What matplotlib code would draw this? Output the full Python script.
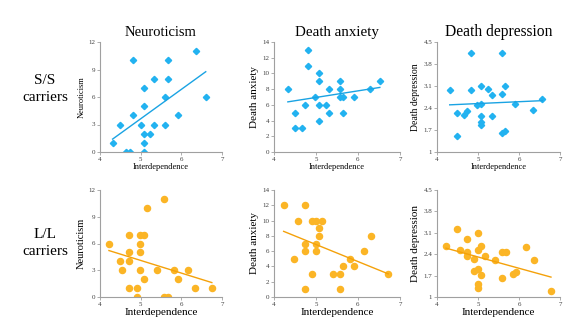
import numpy as np
import matplotlib
matplotlib.use("Agg")
import matplotlib.pyplot as plt

plt.rcParams['font.family'] = ['Liberation Serif', 'DejaVu Serif']

# S/S carriers
ss_neuro_x = [4.31, 4.48, 4.63, 4.73, 4.81, 4.81, 5.0, 5.07, 5.07, 5.07, 5.07, 5.07,
              5.24, 5.32, 5.32, 5.59, 5.59, 5.67, 5.67, 5.92, 6.35, 6.6]
ss_neuro_y = [1, 3, 0, 0, 10, 4, 3, 7, 5, 2, 1, 0,
              2, 8, 3, 6, 3, 10, 8, 4, 11, 6]

ss_anx_x = [4.33, 4.49, 4.49, 4.66, 4.74, 4.82, 4.82, 4.98, 5.07, 5.07, 5.07, 5.07,
            5.23, 5.31, 5.31, 5.56, 5.56, 5.56, 5.65, 5.65, 5.9, 6.28, 6.52]
ss_anx_y = [8, 5, 3, 3, 6, 13, 11, 7, 10, 9, 6, 4,
            6, 8, 5, 9, 8, 7, 7, 5, 7, 8, 9]

ss_dep_x = [4.31, 4.49, 4.49, 4.66, 4.74, 4.82, 4.82, 4.98, 5.07, 5.07, 5.07, 5.07,
            5.07, 5.24, 5.33, 5.33, 5.58, 5.58, 5.58, 5.66, 5.66, 5.9, 6.33, 6.57]
ss_dep_y = [2.97, 1.52, 2.24, 2.19, 2.29, 4.16, 2.97, 2.49, 2.53, 3.10, 2.14, 1.95,
            1.85, 3.01, 2.82, 2.14, 4.16, 2.86, 1.61, 1.66, 3.10, 2.53, 2.34, 2.68]

# L/L carriers
ll_neuro_x = [4.22, 4.48, 4.55, 4.72, 4.72, 4.72, 4.72, 4.9, 4.9, 4.98, 4.98, 4.98,
              4.98, 5.07, 5.07, 5.15, 5.4, 5.57, 5.57, 5.66, 5.83, 5.91, 6.16, 6.33, 6.75]
ll_neuro_y = [6, 4, 3, 7, 5, 4, 1, 1, 0, 7, 6, 5,
              3, 7, 2, 10, 3, 11, 0, 0, 3, 2, 3, 1, 1]

ll_anx_x = [4.23, 4.48, 4.56, 4.73, 4.73, 4.73, 4.73, 4.9, 4.9, 4.99, 4.99, 4.99,
            5.07, 5.07, 5.15, 5.4, 5.57, 5.57, 5.65, 5.81, 5.9, 6.14, 6.3, 6.72]
ll_anx_y = [12, 5, 10, 12, 7, 6, 1, 10, 3, 10, 7, 6,
            9, 8, 10, 3, 3, 1, 4, 5, 4, 6, 8, 3]

ll_dep_x = [4.22, 4.48, 4.57, 4.73, 4.73, 4.73, 4.91, 4.91, 4.99, 4.99, 4.99, 4.99,
            4.99, 5.08, 5.08, 5.16, 5.42, 5.59, 5.59, 5.68, 5.85, 5.93, 6.18, 6.36, 6.78]
ll_dep_y = [2.66, 3.24, 2.53, 2.91, 2.46, 2.33, 2.25, 1.86, 3.09, 2.53, 1.9, 1.43,
            1.28, 2.66, 1.72, 2.33, 2.2, 2.48, 1.61, 2.48, 1.76, 1.82, 2.63, 2.2, 1.19]

titles = ["Neuroticism", "Death anxiety", "Death depression"]
ylabels = ["Neuroticism", "Death anxiety", "Death depression"]
x_ticks = [4, 5, 6, 7]
y_ticks = [[0, 3, 6, 9, 12], [0, 2, 4, 6, 8, 10, 12, 14], [1, 1.7, 2.4, 3.1, 3.8, 4.5]]

BLUE = '#22b2f0'
BLUE_LINE = '#1aa3e3'
ORANGE = '#fbb526'
ORANGE_LINE = '#f4a10a'

fig = plt.figure(figsize=(5.8, 3.34), dpi=100)

lefts = [100 / 580, 274 / 580, 437 / 580]
widths = [122 / 580, 126 / 580, 123 / 580]
rows = [(1 - 152 / 334, 110 / 334), (1 - 297 / 334, 107 / 334)]

data = [
    [(ss_neuro_x, ss_neuro_y), (ss_anx_x, ss_anx_y), (ss_dep_x, ss_dep_y)],
    [(ll_neuro_x, ll_neuro_y), (ll_anx_x, ll_anx_y), (ll_dep_x, ll_dep_y)],
]

ylab_sizes = [[6, 8, 7], [7.5, 8, 8]]
xlab_sizes = [6, 8]
title_sizes = [10.5, 10.8, 11.2]

for r in range(2):
    bottom, height = rows[r]
    for c in range(3):
        ax = fig.add_axes([lefts[c], bottom, widths[c], height])
        x, y = np.array(data[r][c][0]), np.array(data[r][c][1])
        if r == 0:
            ax.plot(x, y, 'D', color=BLUE, ms=3.2, mec=BLUE)
            line_color = BLUE_LINE
        else:
            ax.plot(x, y, 'o', color=ORANGE, ms=4.4, mec=ORANGE)
            line_color = ORANGE_LINE
        # linear trend over the observed range
        k, b = np.polyfit(x, y, 1)
        xs = np.array([x.min(), x.max()])
        ax.plot(xs, k * xs + b, color=line_color, lw=1)

        yt = y_ticks[c]
        ax.set_xlim(4, 7)
        ax.set_ylim(yt[0], yt[-1])
        ax.set_xticks(x_ticks)
        ax.set_yticks(yt)
        ax.set_yticklabels([str(t) for t in yt])
        for s in ['top', 'right']:
            ax.spines[s].set_visible(False)
        for s in ['left', 'bottom']:
            ax.spines[s].set_color('#a0a0a0')
            ax.spines[s].set_linewidth(0.8)
        ax.tick_params(labelsize=5, length=2, width=0.6, color='#a0a0a0',
                       labelcolor='#404040', pad=1.5)
        ax.set_xlabel("Interdependence", fontsize=xlab_sizes[r], labelpad=1)
        ax.set_ylabel(ylabels[c], fontsize=ylab_sizes[r][c], labelpad=2)
        if r == 0:
            ax.set_title(titles[c], fontsize=title_sizes[c], pad=4)

fig.text(45 / 580, 1 - 89 / 334, "S/S\ncarriers", ha='center', va='center',
         fontsize=11, linespacing=1.4)
fig.text(45 / 580, 1 - 243 / 334, "L/L\ncarriers", ha='center', va='center',
         fontsize=11, linespacing=1.4)

fig.savefig("out.png", dpi=100)
